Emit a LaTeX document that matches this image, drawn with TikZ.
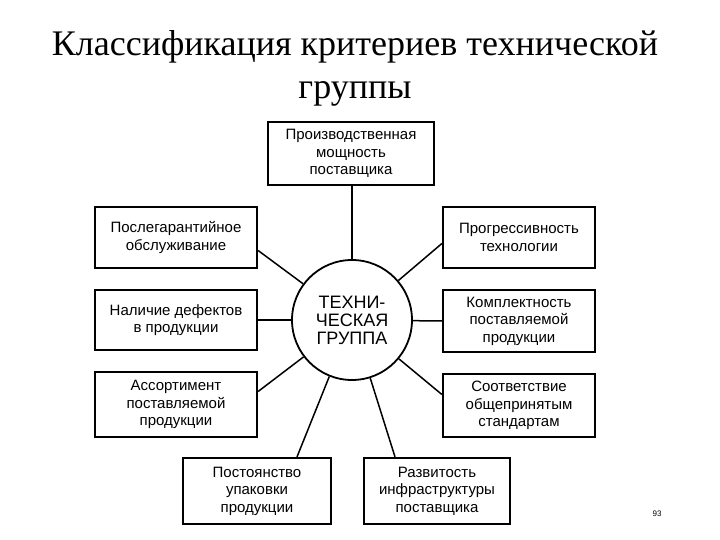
\documentclass[tikz,border=0pt]{standalone}
\usepackage{fontspec}
\setmainfont{Liberation Serif}
\newfontfamily\boxfont{Liberation Sans}
\begin{document}
\begin{tikzpicture}[x=1pt,y=-1pt,
  crit/.style={draw,line width=2.2pt,rectangle,align=center,inner sep=0pt,
    font=\boxfont\fontsize{15}{17.5}\selectfont},
  hub/.style={draw,line width=1.8pt,circle,minimum size=120pt,inner sep=0pt,align=center,
    font=\boxfont\fontsize{18}{18}\selectfont},
  link/.style={line width=1.5pt}]
\useasboundingbox (0,0) rectangle (720,540);
\fill[white] (0,0) rectangle (720,540);
\node[font=\fontsize{36}{43}\selectfont,align=center] (title) at (355,68) {Классификация критериев технической\\группы};
\node[crit,minimum width=166pt,minimum height=63pt] (top) at (351,153.5) {Производственная\\мощность\\поставщика};
\node[crit,minimum width=162pt,minimum height=61pt] (l1) at (176,237.5) {Послегарантийное\\обслуживание};
\node[crit,minimum width=162pt,minimum height=60pt] (l2) at (176,320) {Наличие дефектов\\в продукции};
\node[crit,minimum width=162pt,minimum height=65pt] (l3) at (176,404.5) {Ассортимент\\поставляемой\\продукции};
\node[crit,minimum width=152pt,minimum height=61pt] (r1) at (519,237.5) {Прогрессивность\\технологии};
\node[crit,minimum width=152pt,minimum height=62pt] (r2) at (519,321) {Комплектность\\поставляемой\\продукции};
\node[crit,minimum width=152pt,minimum height=63pt] (r3) at (519,405.5) {Соответствие\\общепринятым\\стандартам};
\node[crit,minimum width=148pt,minimum height=66pt] (b1) at (257,491) {Постоянство\\упаковки\\продукции};
\node[crit,minimum width=146pt,minimum height=66pt] (b2) at (437,491) {Развитость\\инфраструктуры\\поставщика};
\node[hub] (c) at (352,320) {ТЕХНИ-\\ЧЕСКАЯ\\ГРУППА};
\node[font=\boxfont\fontsize{8}{9}\selectfont] (pg) at (657,514) {93};
\draw[link] (c) -- (c |- top.south);
\draw[link] (c) -- (l2.east);
\draw[link] (c) -- (r2.west);
\draw[link] (c) -- ([yshift=-13pt]l1.east);
\draw[link] (c) -- ([yshift=-6pt]r1.west);
\draw[link] (c) -- ([yshift=13pt]l3.east);
\draw[link] (c) -- ([yshift=11pt]r3.west);
\draw[link] (c) -- ([xshift=40pt]b1.north);
\draw[link] (c) -- ([xshift=-42pt]b2.north);
\end{tikzpicture}
\end{document}
